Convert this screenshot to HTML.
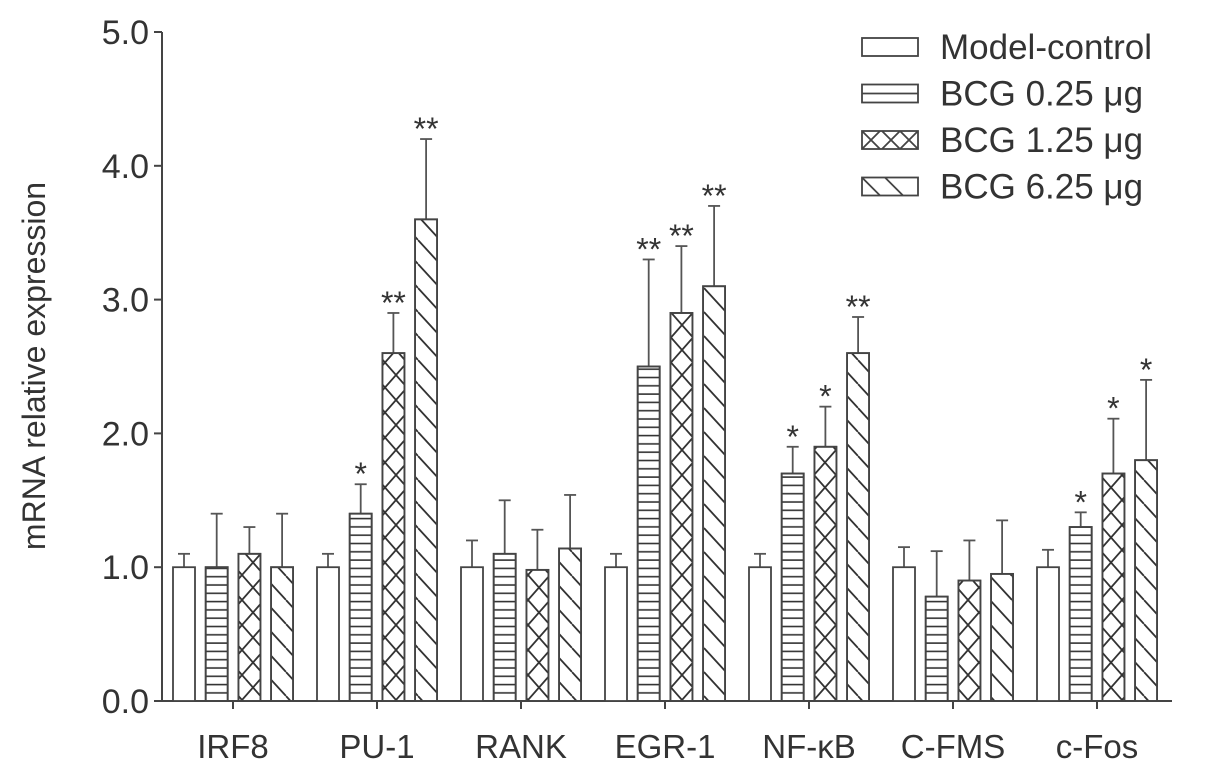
<!DOCTYPE html>
<html><head><meta charset="utf-8"><style>
body{margin:0;background:#fff}
svg{display:block;font-family:"Liberation Sans",sans-serif}
</style></head><body>
<svg id="chart" width="1205" height="775" viewBox="0 0 1205 775">
<defs>
<pattern id="pH" patternUnits="userSpaceOnUse" width="10" height="8.3"><line x1="0" y1="4" x2="10" y2="4" stroke="#333" stroke-width="1.6"/></pattern>
<pattern id="pX" patternUnits="userSpaceOnUse" width="22" height="25" x="0" y="0"><path d="M0,0L22,25M22,0L0,25" stroke="#333" stroke-width="1.8"/></pattern>
<pattern id="pD" patternUnits="userSpaceOnUse" width="22" height="24"><path d="M0,0L22,24M-22,0L0,24M22,0L44,24" stroke="#333" stroke-width="1.8"/></pattern>
</defs>
<g id="axes"></g><g id="bars"></g>
<g id="legend"></g>
</svg>
<script>
const categories=["IRF8","PU-1","RANK","EGR-1","NF-\u03baB","C-FMS","c-Fos"];
const seriesNames=["Model-control","BCG 0.25 \u03bcg","BCG 1.25 \u03bcg","BCG 6.25 \u03bcg"];
const control=[1.0,1.0,1.0,1.0,1.0,1.0,1.0];
const controlErr=[1.1,1.1,1.2,1.1,1.1,1.15,1.13];
const bcg025=[1.0,1.4,1.1,2.5,1.7,0.78,1.3];
const bcg025Err=[1.4,1.62,1.5,3.3,1.9,1.12,1.41];
const bcg125=[1.1,2.6,0.98,2.9,1.9,0.9,1.7];
const bcg125Err=[1.3,2.9,1.28,3.4,2.2,1.2,2.11];
const bcg625=[1.0,3.6,1.14,3.1,2.6,0.95,1.8];
const bcg625Err=[1.4,4.2,1.54,3.7,2.87,1.35,2.4];
const sig025=["","*","","**","*","","*"];
const sig125=["","**","","**","*","","*"];
const sig625=["","**","","**","**","","*"];
const yTicks=[0,1,2,3,4,5];
const yTickLabels=["0.0","1.0","2.0","3.0","4.0","5.0"];

const NS="http://www.w3.org/2000/svg";
const y0=701,yScale=133.8;
const Y=v=>y0-v*yScale;
const X=i=>233+i*144;
function mk(tag,attrs,parent,text){const e=document.createElementNS(NS,tag);for(const k in attrs)e.setAttribute(k,attrs[k]);if(text!==undefined)e.textContent=text;parent.appendChild(e);return e;}
const axes=document.getElementById('axes'),bars=document.getElementById('bars'),leg=document.getElementById('legend');
const ax=mk('line',{x1:162,y1:Y(0),x2:162,y2:Y(5),stroke:'#444','stroke-width':2},axes);


const xa=mk('line',{x1:162,y1:Y(0),x2:1172,y2:Y(0),stroke:'#444','stroke-width':2},axes);


yTicks.forEach((t,i)=>{
  mk('line',{x1:154,y1:Y(t),x2:162,y2:Y(t),stroke:'#444','stroke-width':2},axes);
  const tl=mk('text',{x:149,y:Y(t)+12,'text-anchor':'end','font-size':34,fill:'#333'},axes,yTickLabels[i]);
  
  
});
const yt=mk('text',{x:0,y:0,transform:'translate(45,366) rotate(-90)','text-anchor':'middle','font-size':32,fill:'#333'},axes,'mRNA relative expression');


const series=[[control,controlErr,'#fff',null],[bcg025,bcg025Err,'url(#pH)',sig025],[bcg125,bcg125Err,'url(#pX)',sig125],[bcg625,bcg625Err,'url(#pD)',sig625]];
categories.forEach((c,i)=>{
  mk('line',{x1:X(i),y1:Y(0),x2:X(i),y2:Y(0)+8,stroke:'#444','stroke-width':2},axes);
  const xl=mk('text',{x:X(i),y:758,'text-anchor':'middle','font-size':33,fill:'#333'},axes,c);
  
  
  series.forEach((s,j)=>{
    const bx=X(i)-60+j*32.7, w=22, v=s[0][i], e=s[1][i], cx=bx+w/2;
    mk('line',{x1:cx,y1:Y(v),x2:cx,y2:Y(e),stroke:'#555','stroke-width':1.8},bars);
    mk('line',{x1:cx-6,y1:Y(e),x2:cx+6,y2:Y(e),stroke:'#555','stroke-width':1.8},bars);
    const r=mk('rect',{x:bx,y:Y(v),width:w,height:Y(0)-Y(v),fill:'#fff',stroke:'#444','stroke-width':1.8},bars);
    
    
    if(s[2]!=='#fff') mk('rect',{x:bx,y:Y(v),width:w,height:Y(0)-Y(v),fill:s[2],stroke:'#444','stroke-width':1.8},bars);
    if(s[3]&&s[3][i]){
      const st=mk('text',{x:cx,y:Y(e)+1,'text-anchor':'middle','font-size':32,fill:'#333'},bars,s[3][i]);
      
      
    }
  });
});
seriesNames.forEach((n,j)=>{
  const cy=47+j*46.5;
  const b=mk('rect',{x:862,y:cy-9,width:56,height:18,fill:'#fff',stroke:'#444','stroke-width':1.8},leg);
  
  
  if(j===1) mk('line',{x1:862,y1:cy,x2:918,y2:cy,stroke:'#444','stroke-width':1.8},leg);
  if(j===2) mk('path',{d:`M862,${cy-9}L880,${cy+9}M880,${cy-9}L862,${cy+9}M882,${cy-9}L900,${cy+9}M900,${cy-9}L882,${cy+9}M900,${cy-9}L918,${cy+9}M918,${cy-9}L900,${cy+9}`,stroke:'#444','stroke-width':1.8,fill:'none'},leg);
  if(j===3) mk('path',{d:`M862,${cy-9}L880,${cy+9}M885,${cy-9}L903,${cy+9}`,stroke:'#444','stroke-width':1.8,fill:'none'},leg);
  const t=mk('text',{x:940,y:cy+12,'font-size':35,fill:'#333'},leg,n);
  
  
});
</script>
</body></html>
